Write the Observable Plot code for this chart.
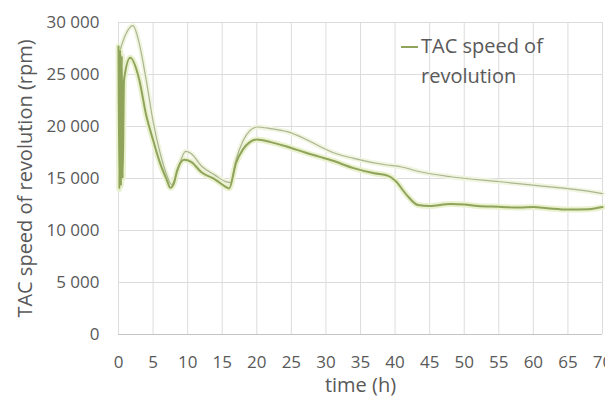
<!DOCTYPE html>
<html>
<head>
<meta charset="utf-8">
<script src="https://cdn.jsdelivr.net/npm/d3@7"></script>
<script src="https://cdn.jsdelivr.net/npm/@observablehq/plot@0.6"></script>
<style>
  html, body { margin: 0; padding: 0; background: #fff; }
  #chart { position: relative; width: 605px; height: 401px; font-family: "Open Sans", sans-serif; }
  #legend { position: absolute; left: 401px; top: 31px; color: #595959; font-size: 20px; line-height: 30px; }
  #legend .sw { position: absolute; left: 0; top: 15px; width: 17px; height: 2px; background: #8fa45a; }
  #legend .tx { margin-left: 20px; }
</style>
</head>
<body>
<div id="chart">
  <div id="legend"><span class="sw"></span><div class="tx">TAC speed of<br>revolution</div></div>
</div>
<script>
// TAC speed of revolution, main trace (time in hours, speed in rpm)
const mainTime = [0, 0.12, 0.24, 0.36, 0.48, 0.6, 0.8, 1.7, 3, 4, 5, 6, 7, 7.5, 8, 8.5, 9.5, 10.5, 12, 14, 15.5, 16, 17, 18, 19, 20, 22, 24.4, 27, 29, 31, 34, 37, 39, 40, 41.7, 43.3, 45, 48, 50, 52, 55, 58, 60, 62, 65, 68, 70];
const mainSpeed = [27700, 14000, 27400, 14300, 26800, 15000, 24500, 26600, 24500, 21100, 18700, 16500, 14850, 14100, 14500, 15800, 16800, 16600, 15600, 14900, 14200, 14050, 16500, 17800, 18500, 18750, 18500, 18060, 17500, 17100, 16700, 16000, 15500, 15250, 14800, 13400, 12450, 12350, 12550, 12500, 12350, 12280, 12200, 12250, 12150, 12020, 12050, 12250];

// Upper trace
const upperTime = [0.3, 1, 2.1, 3, 4, 5, 6, 7, 7.7, 8.5, 9.7, 10.5, 12, 14, 15.5, 16.2, 17, 18, 19, 20, 22, 24.4, 27, 29.2, 31, 34, 38.8, 40.8, 43.6, 48, 55.2, 62.4, 66, 70];
const upperSpeed = [27500, 28800, 29700, 28000, 24500, 20500, 17500, 15300, 14400, 15700, 17600, 17400, 16200, 15300, 14700, 14600, 16800, 18600, 19600, 19950, 19800, 19500, 18800, 18060, 17500, 16940, 16300, 16130, 15650, 15170, 14690, 14200, 13950, 13550];

const xTicks = [0, 5, 10, 15, 20, 25, 30, 35, 40, 45, 50, 55, 60, 65, 70];
const yTicks = [0, 5000, 10000, 15000, 20000, 25000, 30000];

const yLabel = "TAC speed of revolution (rpm)";
const xLabel = "time (h)";

const mainData = mainTime.map((t, i) => ({t, v: mainSpeed[i]}));
const upperData = upperTime.map((t, i) => ({t, v: upperSpeed[i]}));

const fmtY = d => d === 0 ? "0" : d3.format(",")(d).replace(",", "\u00a0");

const chart = Plot.plot({
  width: 605,
  height: 401,
  marginLeft: 118,
  marginRight: 3,
  marginTop: 22,
  marginBottom: 67,
  style: {fontFamily: "Open Sans, sans-serif", fontSize: "17px", color: "#595959", background: "transparent"},
  x: {domain: [0, 70]},
  y: {domain: [0, 30000]},
  marks: [
    Plot.gridX(xTicks, {stroke: "#dcdcdc", strokeOpacity: 1}),
    Plot.gridY(yTicks, {stroke: "#dcdcdc", strokeOpacity: 1}),
    Plot.ruleY([0], {stroke: "#c4c4c4"}),
    Plot.axisX({ticks: xTicks, tickSize: 0, tickPadding: 21, label: null, fill: "#595959"}),
    Plot.axisY({ticks: yTicks, tickSize: 0, tickPadding: 19, tickFormat: fmtY, label: null, fill: "#595959"}),
    // soft halos under both traces
    Plot.line(upperData, {x: "t", y: "v", stroke: "#f1f5df", strokeWidth: 5, curve: "monotone-x"}),
    Plot.line(mainData, {x: "t", y: "v", stroke: "#eaf1cf", strokeWidth: 6, curve: "monotone-x"}),
    Plot.line(upperData, {x: "t", y: "v", stroke: "#aab592", strokeWidth: 1.2, curve: "monotone-x"}),
    Plot.line(mainData, {x: "t", y: "v", stroke: "#8fa45a", strokeWidth: 2, curve: "monotone-x"}),
    Plot.text([yLabel], {frameAnchor: "left", textAnchor: "middle", rotate: -90, dx: -93, fontSize: 20, fill: "#595959"}),
    Plot.text([xLabel], {frameAnchor: "bottom", dy: 57, fontSize: 20, fill: "#595959"})
  ]
});
chart.style.position = "absolute";
chart.style.left = "0";
chart.style.top = "0";
document.getElementById("chart").prepend(chart);
</script>
</body>
</html>
